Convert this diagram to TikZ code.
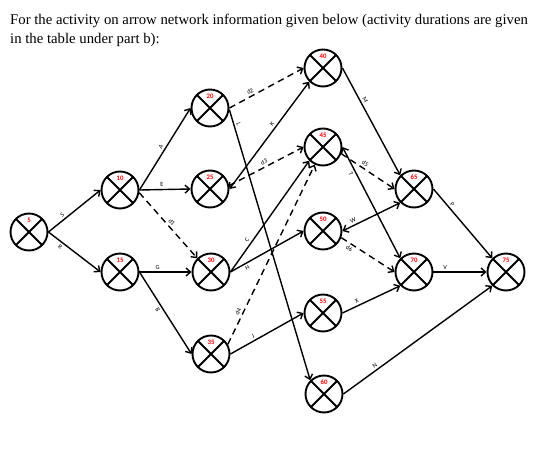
\documentclass[tikz,border=0pt]{standalone}
\usepackage{fontspec}
\setmainfont{Liberation Serif}
\newfontfamily\lblfont{Carlito}
\usetikzlibrary{arrows.meta}
\begin{document}
\begin{tikzpicture}[x=1pt,y=-1pt,
  evt/.style={circle,draw,line width=1.9pt,minimum size=37pt,inner sep=0pt,
    path picture={\draw[line width=1.9pt] (path picture bounding box.north west)--(path picture bounding box.south east)
      (path picture bounding box.north east)--(path picture bounding box.south west);}},
  num/.style={text=red,font=\lblfont\bfseries\fontsize{6.8}{7}\selectfont,yshift=12pt,inner sep=0pt},
  act/.style={line width=1.4pt,-{Straight Barb[length=4.5pt,width=8pt]}},
  both/.style={line width=1.4pt,{Straight Barb[length=4.5pt,width=8pt]}-{Straight Barb[length=4.5pt,width=8pt]}},
  dum/.style={act,dash pattern=on 6.5pt off 4.5pt},
  lab/.style={font=\lblfont\fontsize{6.3}{7}\selectfont,sloped,inner sep=2pt},
  ttl/.style={anchor=base west,font=\fontsize{14.75}{17}\selectfont,inner sep=0pt}
]
\useasboundingbox (0,0) rectangle (547,453);
\node[ttl] (t1) at (10,24) {For the activity on arrow network information given below (activity durations are given};
\node[ttl] (t2) at (10,43) {in the table under part b):};

\node[evt,label={[num]center:5}] (n5) at (29,232) {};
\node[evt,label={[num]center:10}] (n10) at (120,190) {};
\node[evt,label={[num]center:15}] (n15) at (120,272) {};
\node[evt,label={[num]center:20}] (n20) at (210,108) {};
\node[evt,label={[num]center:25}] (n25) at (210,189) {};
\node[evt,label={[num]center:30}] (n30) at (211,272) {};
\node[evt,label={[num]center:35}] (n35) at (211,354) {};
\node[evt,label={[num]center:40}] (n40) at (323,68) {};
\node[evt,label={[num]center:45}] (n45) at (323,147) {};
\node[evt,label={[num]center:50}] (n50) at (323,231) {};
\node[evt,label={[num]center:55}] (n55) at (323,313) {};
\node[evt,label={[num]center:60}] (n60) at (324,394) {};
\node[evt,label={[num]center:65}] (n65) at (414,189) {};
\node[evt,label={[num]center:70}] (n70) at (414,272) {};
\node[evt,label={[num]center:75}] (n75) at (506,272) {};

\draw[act] (n5.east) -- node[lab,pos=.32,above]{S} (n10.west);
\draw[act] (n5.east) -- node[lab,pos=.28,below]{R} (n15.west);
\draw[act] (n10.east) -- node[lab,pos=.5,above]{A} (n20.west);
\draw[act] (n10.east) -- node[lab,pos=.44,above]{E} (n25.west);
\draw[dum] (n10.-8) -- node[lab,pos=.5,above]{d1} (n30.135);
\draw[act] (n15.east) -- node[lab,pos=.35,above]{G} (n30.west);
\draw[act] (n15.east) -- node[lab,pos=.43,below]{B} (n35.west);
\draw[dum] (n20.east) -- node[lab,pos=.31,above]{d2} (n40.west);
\draw[act] (n20.-5) -- node[lab,pos=.06,above]{L} (n60.135);
\draw[both] (n25.east) -- node[lab,pos=.58,above]{K} (n40.225);
\draw[dum] (n25.10) -- node[lab,pos=.5,above]{d3} (n45.west);
\draw[act] (n30.east) -- node[lab,pos=.26,above]{C} (n45.225);
\draw[act] (n30.east) -- node[lab,pos=.2,below]{H} (n50.west);
\draw[dum] (n35.30) -- node[lab,pos=.17,above]{d4} (n45.245);
\draw[act] (n35.east) -- node[lab,pos=.34,above]{J} (n55.west);
\draw[act] (n40.east) -- node[lab,pos=.32,above]{M} (n65.135);
\draw[both] (n45.east) -- node[lab,pos=.22,below]{T} (n70.135);
\draw[dum] (n45.-20) -- node[lab,pos=.4,above]{d5} (n65.west);
\draw[both] (n50.east) -- node[lab,pos=.22,above]{W} (n65.225);
\draw[dum] (n50.-20) -- node[lab,pos=.2,below]{d6} (n70.west);
\draw[act] (n55.east) -- node[lab,pos=.28,above]{X} (n70.225);
\draw[act] (n60.east) -- node[lab,pos=.23,above]{N} (n75.225);
\draw[act] (n65.east) -- node[lab,pos=.26,above]{P} (n75.135);
\draw[act] (n70.east) -- node[lab,pos=.22,above]{V} (n75.west);
\end{tikzpicture}
\end{document}
